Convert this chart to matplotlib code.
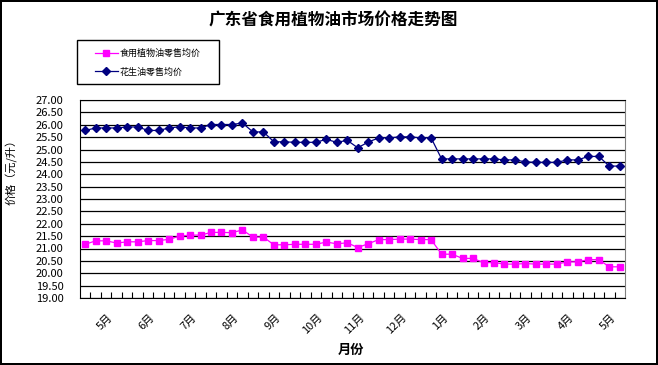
import numpy as np
import matplotlib
matplotlib.use('Agg')
import matplotlib.pyplot as plt
import matplotlib.transforms as mtransforms
from matplotlib.patches import Rectangle

plt.rcParams['font.family'] = ['Noto Sans CJK SC', 'DejaVu Sans']

# weekly retail prices, May to May (52 weeks)
peanut_oil = [25.77, 25.87, 25.87, 25.87, 25.91, 25.91, 25.77, 25.77, 25.87, 25.92,
              25.87, 25.87, 26.01, 26.01, 26.01, 26.07, 25.71, 25.71, 25.31, 25.31,
              25.29, 25.29, 25.29, 25.41, 25.29, 25.37, 25.07, 25.30, 25.47, 25.47,
              25.51, 25.51, 25.47, 25.47, 24.62, 24.62, 24.62, 24.62, 24.62, 24.62,
              24.58, 24.58, 24.50, 24.48, 24.48, 24.48, 24.58, 24.58, 24.72, 24.72,
              24.33, 24.33]
veg_oil = [21.17, 21.31, 21.31, 21.22, 21.27, 21.27, 21.32, 21.32, 21.37, 21.50,
           21.54, 21.54, 21.65, 21.65, 21.64, 21.75, 21.46, 21.46, 21.15, 21.15,
           21.17, 21.17, 21.17, 21.26, 21.19, 21.23, 21.04, 21.19, 21.36, 21.36,
           21.38, 21.38, 21.36, 21.36, 20.77, 20.77, 20.60, 20.60, 20.43, 20.43,
           20.37, 20.37, 20.39, 20.37, 20.37, 20.37, 20.46, 20.46, 20.55, 20.55,
           20.26, 20.26]
month_labels = ['5月', '6月', '7月', '8月', '9月', '10月', '11月', '12月',
                '1月', '2月', '3月', '4月', '5月']
y_ticks = np.arange(19.0, 27.01, 0.5)

fig = plt.figure(figsize=(6.58, 3.65), dpi=100)
fig.patch.set_edgecolor('black')
fig.patch.set_linewidth(1.5)
ax = fig.add_axes([80 / 658, 67 / 365, 545 / 658, 198 / 365])

x = np.arange(len(veg_oil))
ax.plot(x, veg_oil, color='#FF00FF', lw=0.9, marker='s', markersize=5,
        label='食用植物油零售均价')
ax.plot(x, peanut_oil, color='#000080', lw=0.9, marker='D', markersize=4.3,
        label='花生油零售均价')

ax.set_xlim(-0.5, len(x) - 0.5)
ax.set_ylim(19, 27)
ax.set_yticks(y_ticks, [f'{v:.2f}' for v in y_ticks])
ax.yaxis.grid(True, color='black', lw=0.9)
ax.set_axisbelow(True)
ax.tick_params(axis='y', length=0, pad=12, labelsize=8)

# month labels drawn as rotated texts under every 4th week
month_pos = np.arange(3, len(x), 4)
ax.set_xticks(month_pos, [''] * len(month_pos))
ax.tick_params(axis='x', which='major', length=0)
ax.set_xticks(np.arange(0.5, len(x) - 1, 1), minor=True)
ax.tick_params(axis='x', which='minor', direction='in', length=4, width=0.8)
lab_tr = mtransforms.blended_transform_factory(ax.transData, ax.transAxes) + \
    mtransforms.ScaledTranslation(-2 / 100, -14 / 100, fig.dpi_scale_trans)
for p, m in zip(month_pos, month_labels):
    ax.text(p, 0, m, transform=lab_tr, rotation=45,
            ha='right', va='top', fontsize=8)

for s in ['left', 'bottom', 'top']:
    ax.spines[s].set_color('black')
ax.spines['right'].set_color('#808080')

fig.text(0.506, 0.945, '广东省食用植物油市场价格走势图', ha='center', va='center',
         fontsize=12, fontweight='bold')
fig.text(0.533, 0.04, '月份', ha='center', va='center', fontsize=9.5, fontweight='bold')
fig.text(0.018, 0.535, '价格（元/升）', ha='center', va='center', rotation=90, fontsize=8)

fig.legend(loc='upper left', bbox_to_anchor=(95 / 658, 1 - 49 / 365),
           fontsize=6.5, frameon=False, handlelength=2.5, borderpad=0,
           labelspacing=1.0, handletextpad=0.2, borderaxespad=0)
fig.patches.append(Rectangle((77 / 658, 1 - 84 / 365), 142 / 658, 44 / 365,
                             transform=fig.transFigure, fill=False,
                             edgecolor='black', lw=1))

fig.savefig('out.png', dpi=100)
